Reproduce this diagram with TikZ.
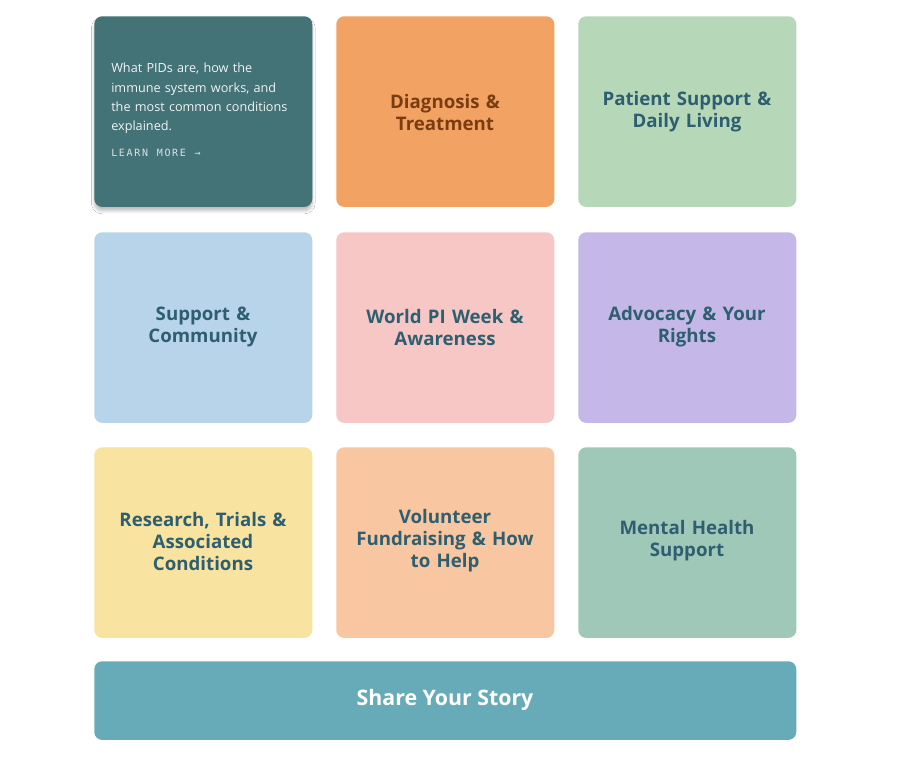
\documentclass[tikz,border=0pt]{standalone}
\usepackage{fontspec}
\setmainfont{Open Sans}
\newfontfamily\monof{DejaVu Sans Mono}
\usetikzlibrary{shadows.blur}
\definecolor{cTeal}{HTML}{437277}
\definecolor{cOrange}{HTML}{F2A262}
\definecolor{cGreen}{HTML}{B7D8B8}
\definecolor{cBlue}{HTML}{B8D4EA}
\definecolor{cPink}{HTML}{F7C7C6}
\definecolor{cPurple}{HTML}{C5B8E9}
\definecolor{cYellow}{HTML}{F8E3A0}
\definecolor{cPeach}{HTML}{F8C6A0}
\definecolor{cSage}{HTML}{A0C8B8}
\definecolor{cBar}{HTML}{68ABB8}
\definecolor{cTxt}{HTML}{2E5F70}
\definecolor{cBrown}{HTML}{7A3D12}
\begin{document}
\begin{tikzpicture}[x=0.75pt,y=-0.75pt,
  card/.style={rounded corners=6pt,minimum width=163.5pt,minimum height=143pt,inner sep=0pt,anchor=north west},
  ttl/.style={text=cTxt,font=\fontsize{14}{16.5}\selectfont\bfseries,align=center,text width=140pt}]
\useasboundingbox[fill=white] (0,0) rectangle (900,760);
\node[card,fill=cTeal,blur shadow={shadow blur steps=8,shadow xshift=0pt,shadow yshift=-3pt,shadow opacity=25}] (c1) at (94,16) {};
\node[card,fill=cOrange] (c2) at (336,16) {};
\node[card,fill=cGreen] (c3) at (578,16) {};
\node[card,fill=cBlue] (c4) at (94,232) {};
\node[card,fill=cPink] (c5) at (336,232) {};
\node[card,fill=cPurple] (c6) at (578,232) {};
\node[card,fill=cYellow] (c7) at (94,447) {};
\node[card,fill=cPeach] (c8) at (336,447) {};
\node[card,fill=cSage] (c9) at (578,447) {};
\node[rounded corners=6pt,fill=cBar,minimum width=526.5pt,minimum height=59pt,inner sep=0pt,anchor=north west] (bar) at (94,661) {};
\node[anchor=north west,text=white!92!cTeal,font=\fontsize{9.5}{14.5}\selectfont,align=left,text width=150pt,inner sep=0pt] (d1) at (111,63) {What PIDs are, how the\\ immune system works, and\\ the most common conditions\\ explained.};
\node[anchor=north west,text=white!80!cTeal,font=\monof\fontsize{7.5}{9}\selectfont,inner sep=0pt] (lm) at (111,149) {L\,E\,A\,R\,N\; M\,O\,R\,E\; →};
\node[ttl,text=cBrown] at (445,112) {Diagnosis \&\\ Treatment};
\node[ttl] at (687,112) {Patient Support \&\\ Daily Living};
\node[ttl] at (203,327) {Support \&\\ Community};
\node[ttl] at (445,327) {World PI Week \&\\ Awareness};
\node[ttl] at (687,327) {Advocacy \& Your\\ Rights};
\node[ttl] at (203,541) {Research, Trials \&\\ Associated\\ Conditions};
\node[ttl] at (445,541) {Volunteer\\ Fundraising \& How\\ to Help};
\node[ttl] at (687,541) {Mental Health\\ Support};
\node[text=white,font=\fontsize{16}{19}\selectfont\bfseries] at (445,700) {Share Your Story};
\end{tikzpicture}
\end{document}
